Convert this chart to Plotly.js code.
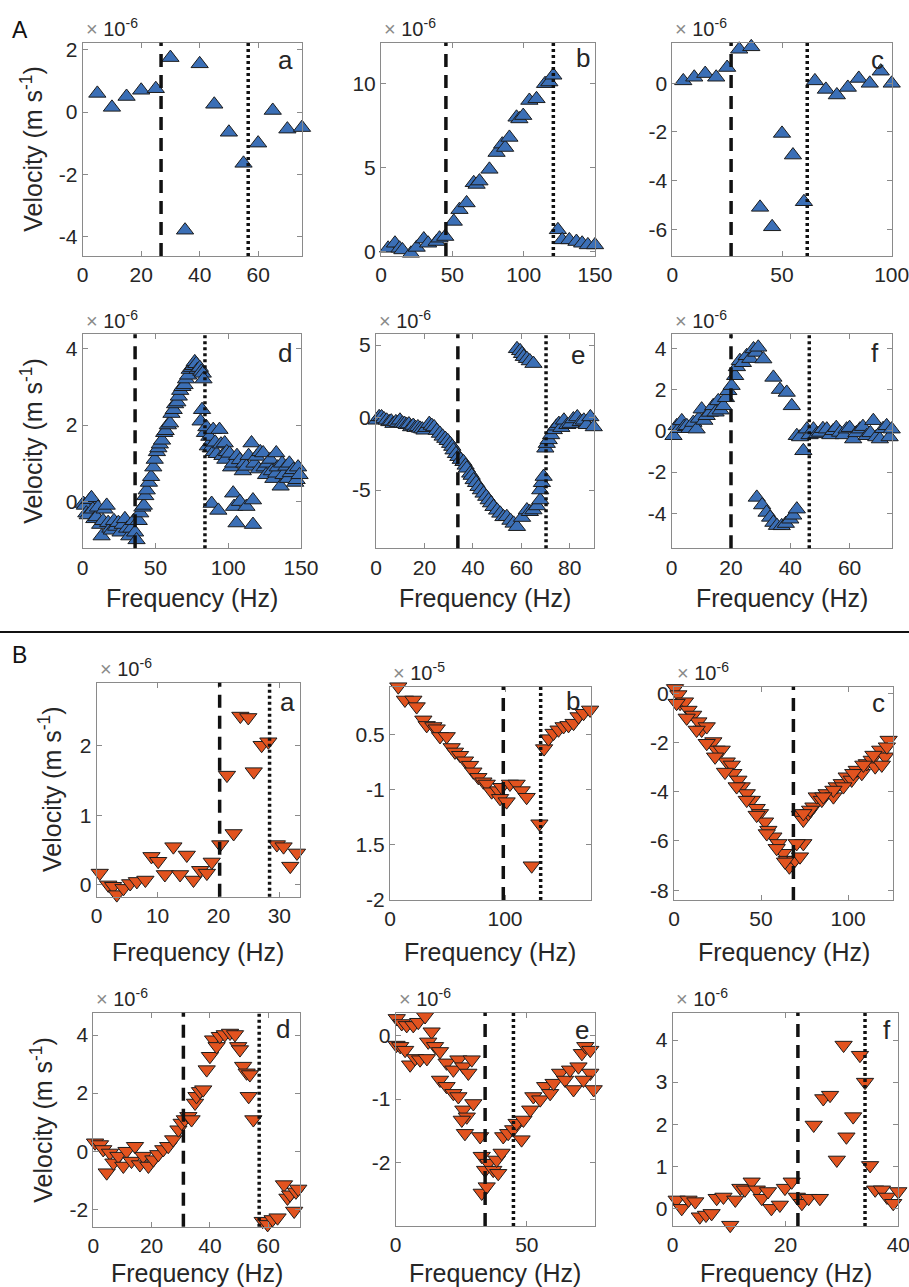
<!DOCTYPE html>
<html>
<head>
<meta charset="utf-8">
<script src="https://cdn.plot.ly/plotly-3.0.1.min.js"></script>
<style>html,body{margin:0;padding:0;background:#fff;}#chart{width:909px;height:1287px;}</style>
</head>
<body>
<div id="chart"></div>
<script>
// ---------------- DATA ----------------
// Group A (upward triangles), velocity in units of 1e-6 m/s
const Aa_freq = [5,10,15,20,25,30,35,40,45,50,55,60,65,70,75];
const Aa_vel  = [0.6,0.15,0.5,0.7,0.75,1.75,-3.8,1.55,0.25,-0.65,-1.65,-1.0,0.05,-0.55,-0.5];

const Ab_freq = [5,9.8,13,15,21,25,30,33,39,41, 45,51,55,60,65,67,69,76,81,85, 87,90,95,97,99.7,104,109,115,118,120.8, 124,127,132,137,141,145,150];
const Ab_vel  = [0.2,0.5,0.2,0.1,-0.1,0.25,0.75,0.5,0.6,0.8, 0.9,1.8,2.5,2.9,4.1,4.0,4.2,4.9,5.9,6.4, 6.2,6.8,8.0,7.9,8.1,9.0,9.1,10.0,10.1,10.5, 1.3,0.7,0.7,0.6,0.5,0.4,0.4];

const Ac_freq = [5,10,15,20,25,30.5,36,40,45.5,50, 55,60,65,70,75,80,85,90,95,100];
const Ac_vel  = [0.1,0.25,0.4,0.25,0.65,1.4,1.5,-5.1,-5.9,-2.06, -2.95,-4.87,0.1,-0.25,-0.48,-0.17,0.2,0.0,0.5,0.0];

const Ad_freq = [0.5,1.5,2.5,3.5,5,6,7,8,9.5,10.5, 12,13,14,15,16.5,17.5,19,20,21.5,23, 24.5,26,27.5,29,30.5,32,33.5,35,36,37,
                 38.5,39.5,41,42,43,44,45.5,47,48.5,49.5, 51,52,53,54.5,56,57,58.5,60,61,62.5, 63.5,65,66,67,68.5,70,71,72.5,73.5,75,
                 76,77,78,79,80.5,81.5,82.5,83,82,81, 84,85,86,87,88,88.6,89.7,90,91,92, 93.2,94,95,96,97.6,98,99,100.9,102,103.4,
                 103.4,104,105.7,106,108,108,110,111,112.5,112.5, 114,116,117,117,118,119.5,121,122,124,125, 126,127,128.9,130,131,133,133,134,136,137,
                 138,140,141,142,143,144.7,146,147,148,149];
const Ad_vel  = [-0.05,-0.1,-0.3,-0.35,0.05,0.1,-0.2,-0.45,-0.4,-0.15, -0.6,-0.9,-0.5,-0.2,-0.1,-0.55,-0.7,-0.75,-0.5,-0.65, -0.55,-0.8,-0.6,-0.45,-0.7,-0.9,-0.7,-0.5,-0.8,-1.0,
                 -0.5,-0.3,-0.15,-0.1,0.15,0.3,0.5,0.65,0.9,1.1, 1.3,1.4,1.5,1.6,1.8,1.85,2.0,2.05,2.3,2.4, 2.55,2.6,2.75,2.9,3.0,3.05,3.2,3.3,3.45,3.5,
                 3.55,3.65,3.6,3.45,3.5,3.4,3.35,3.2,2.4,2.1, 1.8,1.95,1.45,1.7,1.4,-0.05,1.88,1.3,1.55,1.25, -0.23,1.88,1.5,1.2,1.53,1.1,1.3,1.26,0.9,1.0,
                 0.22,-0.13,-0.56,1.2,1.09,0.0,0.8,1.0,0.92,-0.13, 1.2,1.53,0.04,-0.6,1.0,1.18,0.85,1.3,1.27,0.9, 0.7,1.0,1.1,0.8,0.6,1.27,0.74,0.9,0.4,1.0,
                 0.7,0.92,0.6,1.0,0.75,0.83,0.5,0.57,0.9,0.7];

const Ae_freq = [0.3,1.3,2.3,3.3,4.4,5.5,6.3,7.2,8.2,9.1, 9.9,10.9,11.8,12.7,13.6,14.5,15.4,16.3,17.3,18.2, 19.1,20,20.9,22,23,24,25.1,26.4,27.5,28.6,
                 29.6,30.6,31.5,32,33,34,35,36.1,37,37.5, 38.9,39.5,40.3,41.3,42.3,43.3,44.4,45.5,46.5,47.5, 48.5,50,51.3,52.6,54,55.5,56.8,58.2,60.3,62.3,
                 63.5,65,66.5,67.8,67.8,68.5,69.2,69.9,70.5,71.3, 72.3,73.4,74.5,75.5,76.5,77.6,79,80.3,81.5,83.1, 84.5,85.8,87,88.5,89.9,58.2,59.5,60.3,61,62.3,
                 63.5,65];
const Ae_vel  = [-0.19,0.05,0.04,-0.1,-0.19,-0.3,-0.25,-0.42,-0.3,-0.35, -0.19,-0.4,-0.42,-0.5,-0.45,-0.65,-0.55,-0.7,-0.65,-0.75, -0.8,-0.88,-0.7,-0.42,-0.55,-0.65,-0.9,-1.1,-1.3,-1.45,
                 -1.6,-1.8,-2.0,-2.25,-2.5,-2.7,-2.9,-3.05,-3.3,-3.5, -3.85,-4.0,-4.3,-4.5,-4.77,-5.0,-5.23,-5.45,-5.69,-5.9, -6.15,-6.4,-6.61,-6.85,-6.84,-7.1,-7.3,-7.53,-6.9,-6.38,
                 -6.5,-6.38,-6.1,-5.69,-5.0,-4.5,-4.07,-2.12,-1.8,-1.54, -1.2,-0.85,-0.6,-0.42,-0.7,-0.19,-0.5,-0.42,-0.1,0.04, -0.3,-0.19,-0.5,0.04,-0.65,4.74,4.6,4.4,4.2,4.06,
                 3.9,3.72];

const Af_freq = [0.6,1.7,2.5,3.4,4.2,5.1,6,7.3,8.4,9.2, 10.1,11,11.8,12.9,14,14.8,15.7,16.5,17.4,18.3, 19.1,20.2,21.4,22,23,24,25.3,26.5,27.6,28.5,
                 29.2,30.9,34.3,36.5,38.8,40.5,42.2,43.3,44.4,45.6, 46.5,47.8,49,50,51,52.3,53.5,54.5,55.5,56.8, 58,59,60,61.2,62.3,63.5,64.5,65.8,67,68,
                 69,70.2,71.3,72.5,73.5,74.2,28.7,30.5,32,33.2, 34.3,35.5,37.1,38.5,40,41,42.2];
const Af_vel  = [-0.24,0.24,0.1,0.48,0.2,0.24,0.1,0.4,0.08,0.6, 1.05,0.5,0.73,0.89,1.21,0.9,1.45,1.0,1.21,1.6, 1.94,2.19,2.67,3.1,3.4,3.3,3.64,3.5,3.97,3.8,
                 4.05,3.48,2.59,2.0,1.86,1.21,-0.24,-0.3,-0.97,0.08, -0.2,0.08,-0.15,-0.08,0.1,0.08,-0.2,0.0,0.15,-0.08, -0.2,0.08,0.15,-0.4,-0.1,0.08,0.2,-0.24,-0.1,0.49,
                 -0.3,-0.4,0.1,0.24,-0.3,0.08,-3.23,-3.6,-3.96,-4.2, -4.45,-4.6,-4.61,-4.5,-4.29,-4.1,-3.8];

// Group B (downward triangles)
const Ba_freq = [0.5,1.9,2.7,3.3,4.4,5.5,6.6,8,9,10.1, 11.2,12.6,13.7,14.8,15.9,17,18.1,18.9,20.3,21.4, 22.5,23.6,24.9,25.8,27.1,28.2,29.6,30.7,31.8,32.9];
const Ba_vel  = [0.17,0.0,-0.02,-0.14,-0.05,0.02,0.05,0.07,0.41,0.34, 0.15,0.55,0.15,0.43,0.07,0.21,0.17,0.33,0.58,1.58, 0.74,2.43,2.41,1.63,2.01,2.06,0.58,0.55,0.27,0.46];

// velocity in units of 1e-5 m/s
const Bb_freq = [7.2,13,20.3,23.2,29,31.9,37.7,40.6,43.5,49.3, 53.6,56.5,60.9,65.2,69.6,72.5,76.8,81.2,84.1,88.4, 94.2,95.7,97,101.4,104.3,110.1,114.5,118.8,123.2,129.9,
                 134,137.8,142.2,146.5,150.9,155.2,159.6,163.9,168.3,174];
const Bb_vel  = [-0.07,-0.19,-0.19,-0.25,-0.37,-0.42,-0.43,-0.45,-0.52,-0.52, -0.62,-0.66,-0.69,-0.74,-0.78,-0.84,-0.89,-0.93,-0.95,-1.02, -1.01,-1.08,-0.98,-1.11,-0.95,-0.95,-1.01,-1.07,-1.69,-1.31,
                 -0.63,-0.54,-0.49,-0.46,-0.43,-0.42,-0.40,-0.34,-0.31,-0.28];
const Bb_tickvals = [-0.5,-1,-1.5,-2];
const Bb_ticktext = ['0.5','-1','1.5','-2'];

const Bc_freq = [0.6,2.5,3.5,6.3,8.3,11,14,15.9,18.8,22.6, 24.5,27.4,30.3,33.2,34.1,37,38.9,41.8,44.7,47.5, 49.4,52.3,54.2,57.1,60,62.8,64.8,66.3,69.5,72.4,
                 74.3,1.5,7.3,13,18.8,23.6,29.3,36,41.8,47.5, 53.3,59,63.8,70.5,
                 72.4,74.3,77.2,80.1,82,84.9,87.7,91.6,93.5,96.4, 99.2,102.1,105,107.9,110.8,113.6,115.6,118.5,121.3,123.3, 126.1,122.3,119.4,114.6,108.8,103,97.3,91.6,85.8,78.2, 74.3];
const Bc_vel  = [0.2,-0.05,-0.4,-0.34,-0.68,-0.88,-1.15,-1.49,-1.35,-1.96, -2.3,-2.3,-2.78,-2.91,-3.25,-3.52,-3.79,-4.07,-4.34,-4.67, -4.88,-5.22,-5.56,-5.83,-6.1,-6.5,-6.78,-7.05,-6.78,-6.64,
                 -6.1,-0.4,-1.0,-1.49,-2.03,-2.58,-3.2,-3.79,-4.34,-4.95, -5.7,-6.3,-6.85,-6.1,
                 -4.95,-5.15,-4.88,-4.61,-4.2,-4.34,-4.07,-4.2,-3.79,-3.66, -3.39,-3.52,-3.12,-3.25,-2.85,-2.71,-2.98,-2.3,-2.58,-1.9, -1.9,-2.17,-2.91,-2.51,-2.91,-3.25,-3.79,-3.93,-4.2,-4.74, -4.88];

const Bd_freq = [0.6,2.3,3.4,4.6,5.7,6.9,8.6,10.3,11.4,13.1, 14.3,16,17.1,18.9,20.6,22.3,24,25.7,27.4,29.2, 30.3,31.4,32.6,33.7,34.9,35.4,36.6,37.7,38.9,40,
                 41.1,42.3,43.4,45.1,46.9,48.6,49.7,50.3,51.4,52.6, 53.3,54.9,53.7,58.1,59.8,61.5,63.2,65.4,66.6,68.9, 67.5,69.5,70.3];
const Bd_vel  = [0.29,0.23,0.06,-0.74,-0.06,-0.4,-0.17,-0.51,0.0,-0.34, 0.17,-0.46,-0.17,-0.51,-0.29,-0.11,0.06,0.17,0.4,0.74, 0.97,1.09,1.2,1.09,1.66,1.89,2.06,2.12,2.81,3.27,
                 3.84,3.61,3.96,4.02,4.07,4.02,3.61,3.5,2.93,2.7, 1.89,1.09,2.64,-2.41,-2.52,-2.35,-2.29,-1.15,-1.61,-2.06, -1.5,-1.4,-1.3];

const Be_freq = [0.4,2.3,4.2,6.7,8.6,11.2,0.3,1.7,3.6,5.5, 7.4,9.3,11.9,13.7,12.4,15,16.9,19.4,22,23.9, 25.8,27.7,29,16.9,19.4,22,23.9,25.8,27.1,29.6,
                 25.2,26.4,32.2,32.8,34.1,32.8,34.7,35.3,37.2,39.1, 38.5,40.4,41,42.9,44.8,46.1,48,48.7,51.3,52.5, 55.1,57,58.9,60.2,62.7,64.6,66.5,67.8,69.7,71,
                 72.3,74.2,74.2,75.5,71.6];
const Be_vel  = [0.27,0.19,0.16,0.16,0.21,0.3,-0.15,-0.17,-0.23,-0.46, -0.36,-0.38,-0.36,0.06,-0.1,-0.17,-0.25,-0.43,-0.54,-0.38, -0.49,-0.59,-0.38,-0.7,-0.8,-0.91,-0.96,-1.17,-1.28,-1.07,
                 -1.33,-1.54,-1.59,-1.9,-2.12,-2.48,-2.38,-2.01,-2.12,-2.17, -1.96,-1.85,-1.59,-1.54,-1.48,-1.38,-1.64,-1.33,-1.17,-0.96, -1.01,-0.8,-0.91,-0.75,-0.59,-0.7,-0.54,-0.85,-0.49,-0.28,
                 -0.17,-0.23,-0.59,-0.85,-0.7];

const Bf_freq = [0.7,1.6,2.8,4,4.8,5.9,6.9,7.8,9,10.2, 11.1,12,12.8,14,14.9,15.8,16.9,17.5,19,19.9, 21.1,22,22.9,24.1,26.1,25,26.7,27.9,29.1,30.3,
                 30.8,32,33.2,34.1,35,35.9,37.1,38,39.1,40];
const Bf_vel  = [0.2,0.0,0.2,0.16,-0.2,-0.16,-0.12,0.24,0.27,-0.4, 0.2,0.48,0.44,0.63,0.44,0.24,0.4,0.0,0.08,0.48, 0.63,0.27,0.12,0.24,0.24,1.98,2.61,2.69,1.15,3.88,
                 1.7,2.18,3.64,3.0,1.02,0.44,0.44,0.27,0.12,0.4];

// cut-off frequencies (dashed / dotted vertical lines), panels a..f
const A_dashFreq = [26.8, 45.5, 26.8, 36, 33.8, 20];
const A_dotFreq  = [56.6, 120.8, 61.5, 84, 70.2, 46.4];
const B_dashFreq = [20.2, 98.5, 68.6, 30.9, 34.1, 22.2];
const B_dotFreq  = [28.4, 131, null, 56.9, 44.9, 34.1];

// tick labels
const A_xticks = [[0,20,40,60],[0,50,100,150],[0,50,100],[0,50,100,150],[0,20,40,60,80],[0,20,40,60]];
const A_yticks = [[-4,-2,0,2],[0,5,10],[-6,-4,-2,0],[0,2,4],[-5,0,5],[-4,-2,0,2,4]];
const B_xticks = [[0,10,20,30],[0,100],[0,50,100],[0,20,40,60],[0,50],[0,20,40]];
const B_yticks = [[0,1,2],null,[-8,-6,-4,-2,0],[-2,0,2,4],[-2,-1,0],[0,1,2,3,4]];
const A_exponent = ['-6','-6','-6','-6','-6','-6'];
const B_exponent = ['-6','-5','-6','-6','-6','-6'];
const panelLetters = ['a','b','c','d','e','f'];

// ---------------- LAYOUT / STYLE ----------------
const W = 909, H = 1287;
const FONT = 'Liberation Sans, Arial, sans-serif';
const BLUE = '#3b6fb6', ORANGE = '#e2531f', EDGE = '#1c1c1c', AXC = '#8a8a8a', TXT = '#262626';

// pixel boxes [left, right, top, bottom] and axis ranges
const boxes = [
  [82.7,302,42.7,256],[381,595,42.7,256],[672.3,891.7,42.7,256],
  [82.7,301,334.3,548.3],[376,594,334.3,548.3],[671.7,891.7,334.3,548.3],
  [96.7,300,682.7,896.7],[390,590.7,686.7,900],[674,893.3,686.7,900],
  [93.3,300,1012.7,1226.7],[395.7,595,1012.7,1226],[672.7,898.3,1012.7,1226]
];
const xRanges = [[0,75],[0,150],[0,100],[0,150],[0,90],[0,74.2],[0,33.4],[0,174.5],[0,126],[0,70.9],[0,76],[0,40]];
const yRanges = [[-4.63,2.23],[-0.26,12.44],[-7.1,1.67],[-1.22,4.37],[-9.02,5.74],[-5.7,4.68],
                 [-0.17,2.91],[-2.0,-0.07],[-8.4,0.27],[-2.6,4.77],[-3.0,0.36],[-0.42,4.65]];
const letterPos = [[285,60],[583,58],[877,60],[285,353],[578,355],[875,353],[287,702],[573,701],[878,703],[283,1029],[582,1030],[887,1030]];

const freqs = [Aa_freq,Ab_freq,Ac_freq,Ad_freq,Ae_freq,Af_freq,Ba_freq,Bb_freq,Bc_freq,Bd_freq,Be_freq,Bf_freq];
const vels  = [Aa_vel,Ab_vel,Ac_vel,Ad_vel,Ae_vel,Af_vel,Ba_vel,Bb_vel,Bc_vel,Bd_vel,Be_vel,Bf_vel];
const dashF = A_dashFreq.concat(B_dashFreq);
const dotF  = A_dotFreq.concat(B_dotFreq);
const xticks = A_xticks.concat(B_xticks);
const yticks = A_yticks.concat(B_yticks);
const exps = A_exponent.concat(B_exponent);

const data = [];
const layout = {
  width: W, height: H, margin: {l:0,r:0,t:0,b:0},
  paper_bgcolor: '#ffffff', plot_bgcolor: '#ffffff',
  showlegend: false, font: {family: FONT, color: TXT},
  shapes: [], annotations: []
};

for (let i = 0; i < 12; i++) {
  const n = i + 1;
  const [L,R,T,B] = boxes[i];
  const isA = i < 6;
  data.push({
    type: 'scatter', mode: 'markers', x: freqs[i], y: vels[i],
    xaxis: 'x' + n, yaxis: 'y' + n, cliponaxis: false, hoverinfo: 'skip',
    marker: {symbol: isA ? 'triangle-up' : 'triangle-down', size: 15,
             color: isA ? BLUE : ORANGE, line: {color: EDGE, width: 1}}
  });
  const common = {
    showgrid: false, zeroline: false, showline: true, linecolor: AXC, linewidth: 1,
    mirror: 'ticks', ticks: 'inside', ticklen: 5, tickwidth: 1, tickcolor: AXC,
    tickfont: {family: FONT, size: 21, color: TXT}, fixedrange: true,
    ticklabeloverflow: 'allow'
  };
  layout['xaxis' + n] = Object.assign({}, common, {
    domain: [L/W, R/W], range: xRanges[i], anchor: 'y' + n,
    tickmode: 'array', tickvals: xticks[i], ticktext: xticks[i].map(String)
  });
  const yv = yticks[i] || Bb_tickvals;
  const yt = yticks[i] ? yticks[i].map(String) : Bb_ticktext;
  layout['yaxis' + n] = Object.assign({}, common, {
    domain: [1 - B/H, 1 - T/H], range: yRanges[i], anchor: 'x' + n,
    tickmode: 'array', tickvals: yv, ticktext: yt
  });
  if (dashF[i] !== null) layout.shapes.push({type:'line', xref:'x'+n, yref:'y'+n+' domain', x0:dashF[i], x1:dashF[i], y0:0, y1:1,
    layer:'above', line:{color:'#111', width:3.5, dash:'13px,8px'}});
  if (dotF[i] !== null) layout.shapes.push({type:'line', xref:'x'+n, yref:'y'+n+' domain', x0:dotF[i], x1:dotF[i], y0:0, y1:1,
    layer:'above', line:{color:'#111', width:3.5, dash:'3px,3px'}});
  // exponent label
  layout.annotations.push({xref:'paper', yref:'paper', x:(L+1)/W, y:1-(T-15)/H, xanchor:'left', yanchor:'middle',
    showarrow:false, text:'<span style="color:#8a8a8a">×</span> 10<sup>' + exps[i] + '</sup>', font:{family:FONT, size:20, color:TXT}});
  // panel letter
  layout.annotations.push({xref:'paper', yref:'paper', x:letterPos[i][0]/W, y:1-letterPos[i][1]/H, xanchor:'center', yanchor:'middle',
    showarrow:false, text:panelLetters[i % 6], font:{family:FONT, size:26, color:TXT}});
  // x title (all except first row of A)
  if (i >= 3) {
    const ty = (i < 6) ? 598 : (i < 9 ? 952 : 1273);
    layout.annotations.push({xref:'paper', yref:'paper', x:((L+R)/2)/W, y:1-ty/H, xanchor:'center', yanchor:'middle',
      showarrow:false, text:'Frequency (Hz)', font:{family:FONT, size:25, color:TXT}});
  }
}
// y titles
const yTitlePos = [[31.7,149],[31.7,441],[50,789],[41.7,1120]];
yTitlePos.forEach(p => layout.annotations.push({xref:'paper', yref:'paper', x:p[0]/W, y:1-p[1]/H, xanchor:'center', yanchor:'middle',
  textangle:-90, showarrow:false, text:'Velocity (m s<sup>-1</sup>)', font:{family:FONT, size:25, color:TXT}}));
// group labels
layout.annotations.push({xref:'paper', yref:'paper', x:19.5/W, y:1-30/H, xanchor:'center', yanchor:'middle', showarrow:false, text:'A', font:{family:FONT, size:23, color:'#111'}});
layout.annotations.push({xref:'paper', yref:'paper', x:19.5/W, y:1-655/H, xanchor:'center', yanchor:'middle', showarrow:false, text:'B', font:{family:FONT, size:23, color:'#111'}});
// separator
layout.shapes.push({type:'line', xref:'paper', yref:'paper', x0:0, x1:1, y0:1-632/H, y1:1-632/H, line:{color:'#111', width:2}});

Plotly.newPlot('chart', data, layout, {displayModeBar:false, staticPlot:true});
</script>
</body>
</html>
